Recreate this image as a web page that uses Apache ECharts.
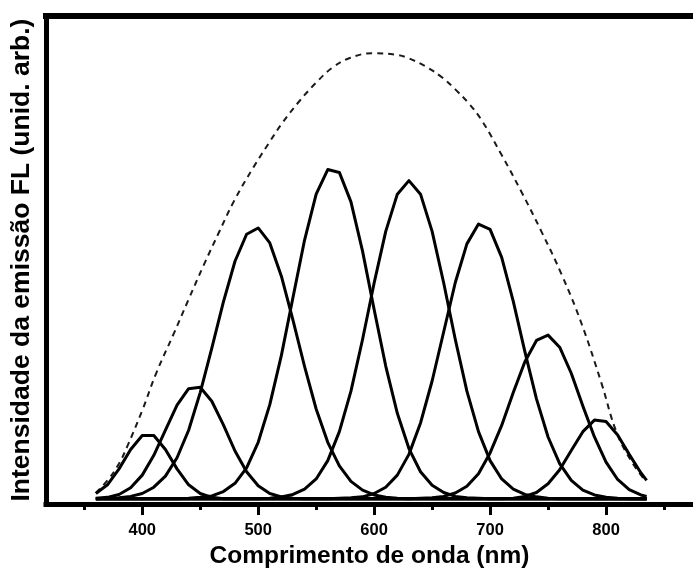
<!DOCTYPE html>
<html>
<head>
<meta charset="utf-8">
<script src="https://cdn.jsdelivr.net/npm/echarts@6/dist/echarts.min.js"></script>
<style>
  html, body { margin: 0; padding: 0; background: #fff; }
  #chart { width: 693px; height: 574px; }
</style>
</head>
<body>
<div id="chart"></div>
<script>
// Sampling grid (nm) shared by the eight emission bands
const wavelengths = [360,370,380,390,400,410,420,430,440,450,460,470,480,490,500,510,520,530,540,550,560,570,580,590,600,610,620,630,640,650,660,670,680,690,700,710,720,730,740,750,760,770,780,790,800,810,820,830,835];

// Individual FL emission bands (arb. units)
const band405 = [1.1,2.9,6.2,10.2,13.1,13.1,10.2,6.2,2.9,1.1,0.3,0,0,0,0,0,0,0,0,0,0,0,0,0,0,0,0,0,0,0,0,0,0,0,0,0,0,0,0,0,0,0,0,0,0,0,0,0,0];
const band446 = [0.1,0.3,0.9,2.3,4.9,9.0,14.2,19.4,22.8,23.1,20.2,15.3,9.9,5.6,2.7,1.1,0.4,0.1,0,0,0,0,0,0,0,0,0,0,0,0,0,0,0,0,0,0,0,0,0,0,0,0,0,0,0,0,0,0,0];
const band498 = [0,0.1,0.2,0.5,1.1,2.4,4.7,8.5,14.2,22.0,31.2,40.8,49.2,54.8,56.1,53.0,46.1,37.0,27.4,18.6,11.7,6.8,3.6,1.8,0.8,0.3,0.1,0,0,0,0,0,0,0,0,0,0,0,0,0,0,0,0,0,0,0,0,0,0];
const band564 = [0,0,0,0,0,0,0,0,0.1,0.3,0.6,1.5,3.2,6.4,11.7,19.5,29.7,41.7,53.6,63.1,68.2,67.6,61.5,51.3,39.2,27.5,17.7,10.4,5.6,2.8,1.3,0.5,0.2,0.1,0,0,0,0,0,0,0,0,0,0,0,0,0,0,0];
const band630 = [0,0,0,0,0,0,0,0,0,0,0,0,0,0,0,0.1,0.4,0.9,2.0,4.1,7.9,13.9,22.3,33.0,44.7,55.4,63.1,65.9,63.1,55.4,44.7,33.0,22.3,13.9,7.9,4.1,2.0,0.9,0.4,0.1,0,0,0,0,0,0,0,0,0];
const band693 = [0,0,0,0,0,0,0,0,0,0,0,0,0,0,0,0,0,0,0,0,0,0.1,0.2,0.4,1.1,2.4,4.9,9.2,15.7,24.4,34.6,44.8,52.8,56.9,55.8,50.0,40.9,30.5,20.7,12.8,7.3,3.8,1.8,0.8,0.3,0.1,0,0,0];
const band748 = [0,0,0,0,0,0,0,0,0,0,0,0,0,0,0,0,0,0,0,0,0,0,0,0,0,0,0,0,0.1,0.2,0.5,1.2,2.6,5.2,9.5,15.2,22.0,28.4,32.8,33.9,31.4,26.0,19.2,12.8,7.6,4.0,1.9,0.8,0.5];
const band794 = [0,0,0,0,0,0,0,0,0,0,0,0,0,0,0,0,0,0,0,0,0,0,0,0,0,0,0,0,0,0,0,0,0,0,0,0,0.1,0.5,1.3,3.1,6.0,10.0,13.9,16.3,16.0,13.2,9.2,5.4,3.8];

const bands = [band405, band446, band498, band564, band630, band693, band748, band794];

// Overall emission envelope (dashed)
const envWavelengths = [360,371,380,387,400,412,427,440,453,466,479,496,509,521,536,550,564,579,599,618,627,644,659,670,682,693,710,727,744,762,779,796,809,822,834];
const envValues = [1.2,4.1,7.3,10.8,18.3,26.0,34.1,41.3,48.4,55.1,61.6,68.7,73.6,77.9,82.5,86.2,89.3,91.3,92.3,92.0,91.5,89.6,87.2,84.8,81.8,78.3,71.2,63.6,55.5,46.3,36.2,24.0,13.8,7.7,3.7];

// Axis ticks
const majorTicks = [400, 500, 600, 700, 800];
const minorTicks = [350, 450, 550, 650, 750, 850];

const xTitle = 'Comprimento de onda (nm)';
const yTitle = 'Intensidade da emissão FL (unid. arb.)';

const FONT = '"Liberation Sans", Arial, sans-serif';
const X_MIN = 317, X_MAX = 875;

const chart = echarts.init(document.getElementById('chart'), null, { renderer: 'canvas' });

const series = bands.map((vals, i) => ({
  name: 'band' + i,
  type: 'line',
  xAxisIndex: 0,
  yAxisIndex: 0,
  data: wavelengths.map((w, k) => [w, vals[k]]),
  showSymbol: false,
  smooth: false,
  lineStyle: { color: '#000', width: 3, join: 'round' },
  z: 3
}));

series.push({
  name: 'envelope',
  type: 'line',
  xAxisIndex: 0,
  yAxisIndex: 0,
  data: envWavelengths.map((w, k) => [w, envValues[k]]),
  showSymbol: false,
  smooth: 0.4,
  lineStyle: { color: '#1a1a1a', width: 2, type: [6, 5] },
  z: 2
});

chart.setOption({
  animation: false,
  backgroundColor: '#fff',
  grid: { left: 42, right: 0, top: 16, bottom: 60.5 },
  xAxis: [
    {
      type: 'value', position: 'bottom', min: X_MIN, max: X_MAX,
      name: xTitle, nameLocation: 'middle', nameGap: 31,
      nameTextStyle: { fontFamily: FONT, fontWeight: 'bold', fontSize: 24.5, color: '#000' },
      axisLine: { show: true, onZero: false, lineStyle: { color: '#000', width: 5, cap: 'square' } },
      axisTick: { show: true, inside: false, length: 11, customValues: majorTicks, lineStyle: { color: '#000', width: 3 } },
      axisLabel: { show: true, customValues: majorTicks, margin: 18, fontFamily: FONT, fontWeight: 'bold', fontSize: 16.5, color: '#000' },
      splitLine: { show: false }
    },
    {
      type: 'value', position: 'bottom', min: X_MIN, max: X_MAX,
      axisLine: { show: false, onZero: false },
      axisTick: { show: true, inside: false, length: 6, customValues: minorTicks, lineStyle: { color: '#000', width: 3 } },
      axisLabel: { show: false },
      splitLine: { show: false }
    },
    {
      type: 'value', position: 'top', min: X_MIN, max: X_MAX,
      axisLine: { show: true, onZero: false, lineStyle: { color: '#000', width: 6, cap: 'square' } },
      axisTick: { show: false },
      axisLabel: { show: false },
      splitLine: { show: false }
    }
  ],
  yAxis: [
    {
      type: 'value', position: 'left', min: -1.1, max: 100,
      name: yTitle, nameLocation: 'middle', nameGap: 11,
      nameTextStyle: { fontFamily: FONT, fontWeight: 'bold', fontSize: 26.5, color: '#000' },
      axisLine: { show: true, onZero: false, lineStyle: { color: '#000', width: 5, cap: 'square' } },
      axisTick: { show: false },
      axisLabel: { show: false },
      splitLine: { show: false }
    }
  ],
  series: series
});
</script>
</body>
</html>
